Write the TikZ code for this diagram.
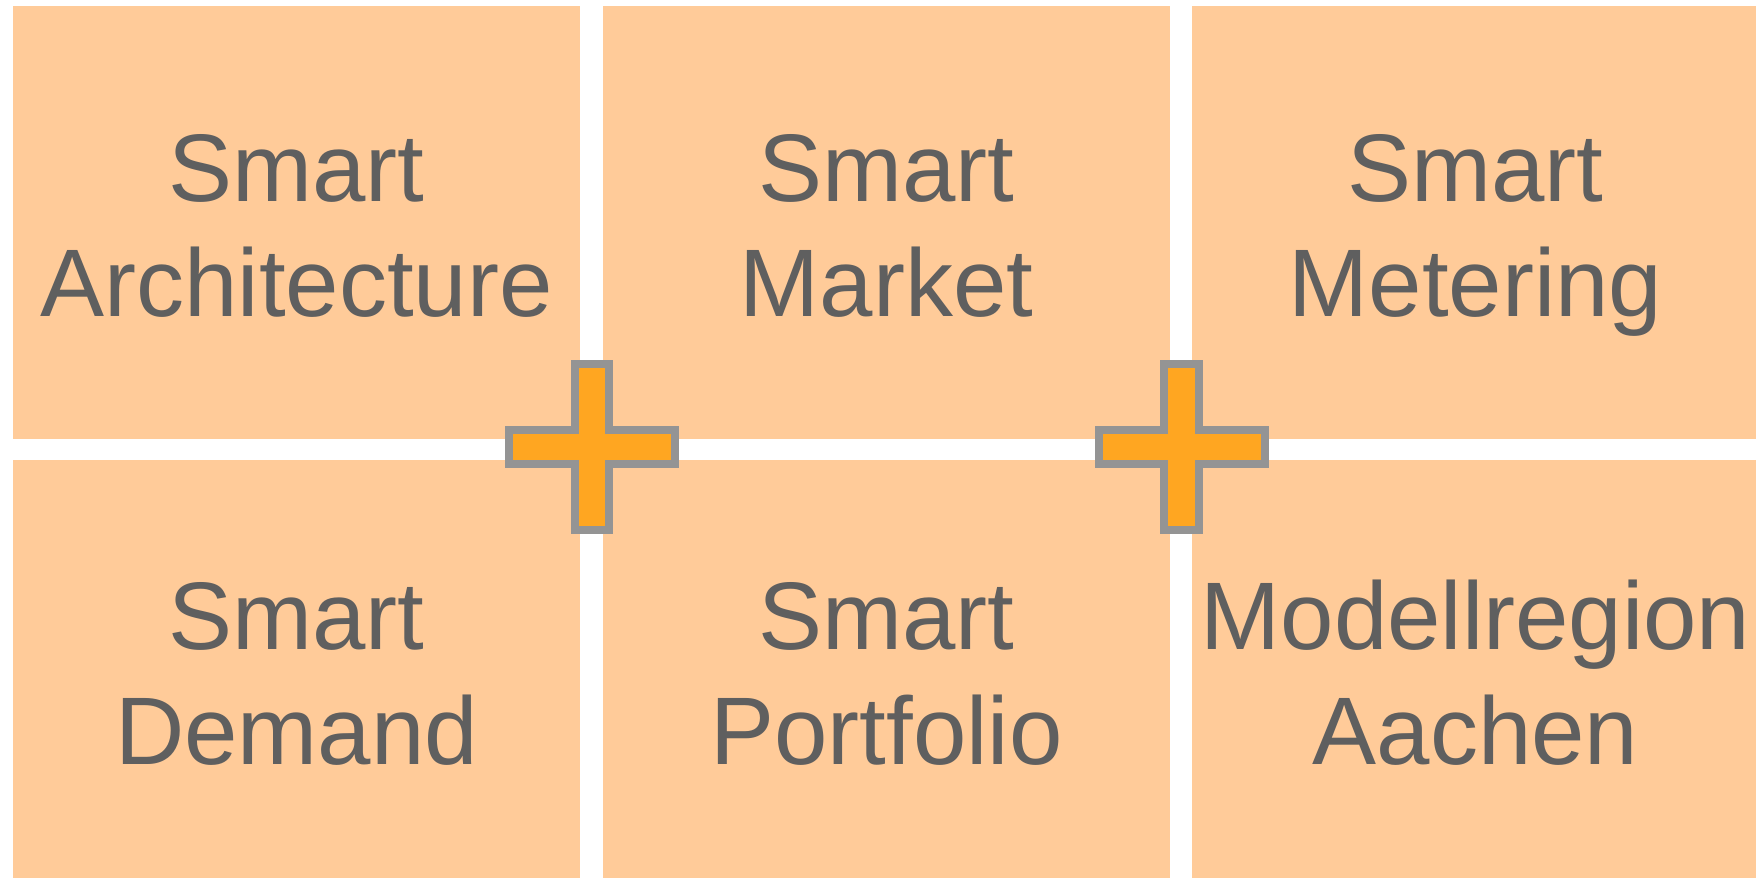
\documentclass[tikz,border=0pt]{standalone}
\usepackage{fontspec}
\setmainfont{Liberation Sans}
\definecolor{cellpeach}{HTML}{FFCB99}
\definecolor{plusorange}{HTML}{FFA621}
\definecolor{plusgray}{HTML}{949494}
\definecolor{textgray}{HTML}{5F5F5F}
\tikzset{
    cell/.style={fill=cellpeach, inner sep=0pt, minimum width=283.5pt,
        align=center, text=textgray, text depth=0pt,
        font=\fontsize{48}{57.35}\selectfont},
    toprow/.style={minimum height=216.5pt, text height=94pt},
    botrow/.style={minimum height=209pt, text height=95.5pt},
    plussign/.style={draw=plusgray, fill=plusorange, line width=4pt, miter limit=4}
}
\begin{document}
\begin{tikzpicture}[x=0.5pt,y=-0.5pt]
        \useasboundingbox (0,0) rectangle (1756,878);
        %% Cells
        \node[cell,toprow] (architecture) at (296.5,222.5) {Smart\\Architecture};
        \node[cell,toprow] (market) at (886.5,222.5) {Smart\\Market};
        \node[cell,toprow] (metering) at (1475.5,222.5) {Smart\\Metering};
        \node[cell,botrow] (demand) at (296.5,669) {Smart\\Demand};
        \node[cell,botrow] (portfolio) at (886.5,669) {Smart\\Portfolio};
        \node[cell,botrow] (aachen) at (1475.5,669) {Modellregion\\Aachen};
        %% Plus signs
        \foreach \px in {591.8,1181.5} {
            \draw[plussign,shift={(\px,447)}] (-17.2,-83) -- (17.2,-83) -- (17.2,-17) -- (83,-17)
                -- (83,17) -- (17.2,17) -- (17.2,83) -- (-17.2,83) -- (-17.2,17) -- (-83,17)
                -- (-83,-17) -- (-17.2,-17) -- cycle;
        }
    \end{tikzpicture}
\end{document}
